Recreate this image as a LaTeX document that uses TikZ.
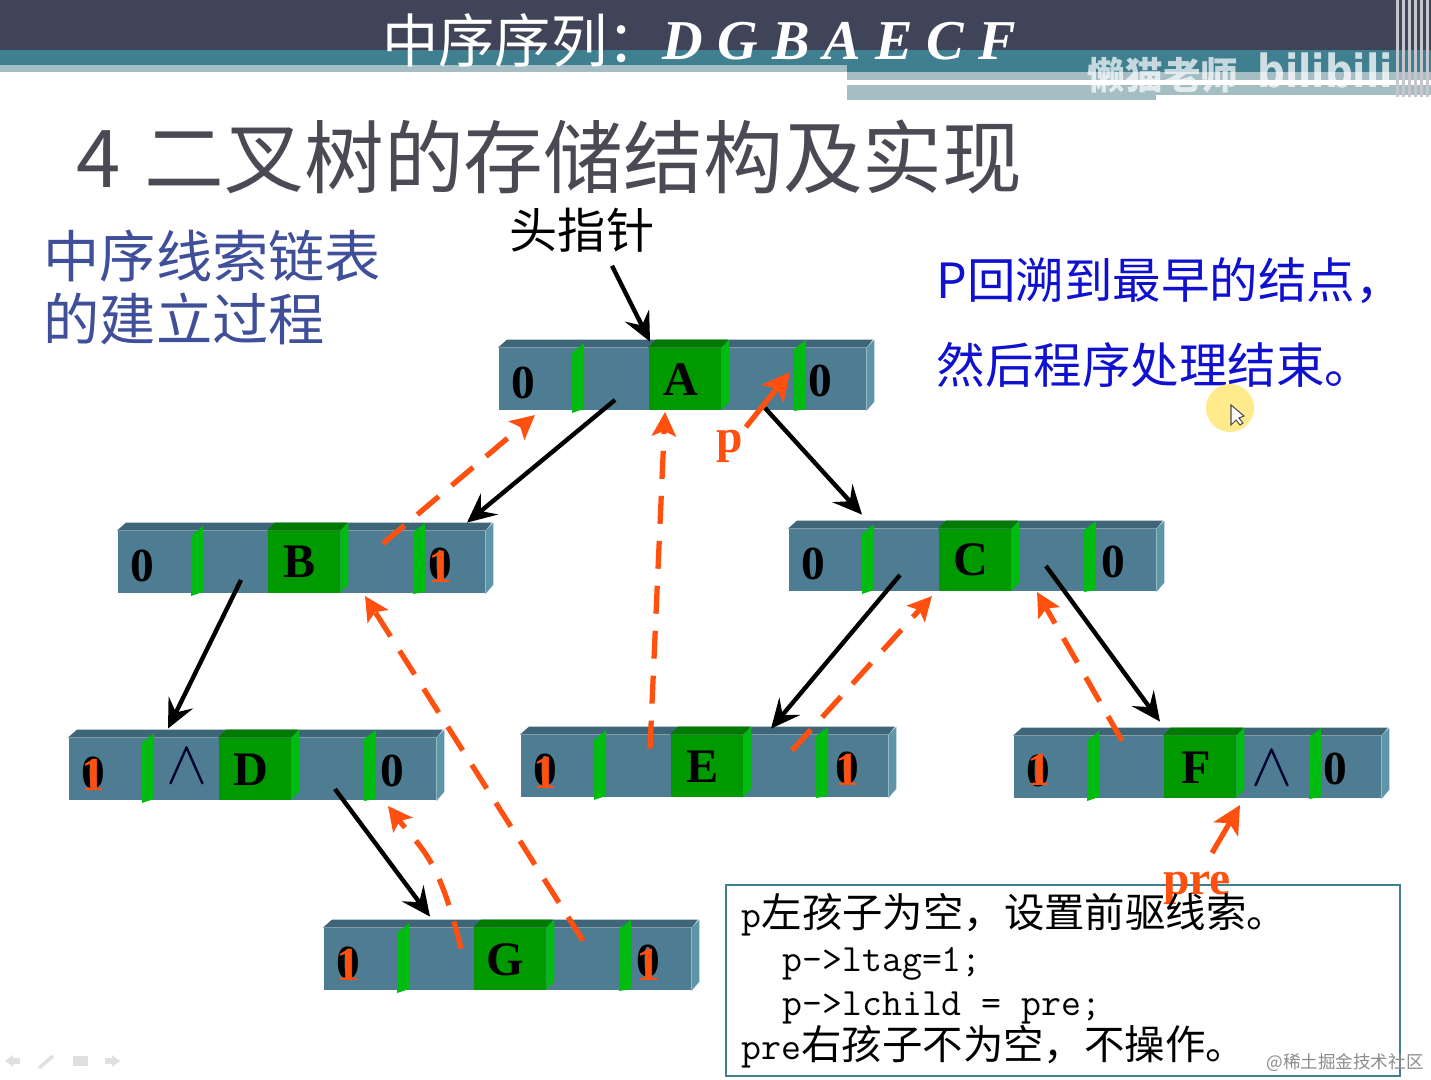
\documentclass[tikz,border=0pt]{standalone}
\usepackage{fontspec}
\usepackage{amsmath}
\usetikzlibrary{arrows.meta, calc}
\newfontfamily\cjk{Noto Sans CJK SC}
\newfontfamily\lat{Liberation Serif}
\newfontfamily\wm{DejaVu Sans}
\definecolor{bandnavy}{HTML}{3F4459}
\definecolor{bandteal}{HTML}{3F7F8F}
\definecolor{bandpale}{HTML}{A5BEC4}
\definecolor{barfront}{HTML}{4E7C92}
\definecolor{bartop}{HTML}{3F6678}
\definecolor{barside}{HTML}{5E95A8}
\definecolor{cellgreen}{HTML}{009A00}
\definecolor{celltop}{HTML}{007A00}
\definecolor{cellside}{HTML}{00BB10}
\definecolor{threadorange}{HTML}{FF5010}
\definecolor{slideblue}{HTML}{1010D0}
\definecolor{stepblue}{HTML}{3F4F9A}
\definecolor{titlegray}{HTML}{4A4A55}
\tikzset{
  bar/.style={fill=barfront, minimum width=3.67cm, minimum height=0.62cm,
              inner sep=0pt, anchor=south west},
  cell/.style={fill=cellgreen, minimum width=0.72cm, minimum height=0.62cm,
               inner sep=0pt, anchor=south west, font=\lat\bfseries\fontsize{13.7}{14}\selectfont},
  digit/.style={inner sep=0pt, font=\lat\bfseries\fontsize{13.5}{14}\selectfont},
  overone/.style={digit, text=threadorange},
  childarrow/.style={-{Stealth[length=2.9mm,width=2.7mm,inset=1.1mm]}, line width=1.25pt, draw=black},
  threadarrow/.style={-{Stealth[length=2.4mm,width=2.4mm,inset=0.5mm]}, line width=1.5pt,
                      draw=threadorange, dash pattern=on 0.28cm off 0.17cm},
  pointer/.style={-{Stealth[length=2.8mm,width=2.8mm,inset=0.7mm]}, line width=1.5pt, draw=threadorange},
  pointerlabel/.style={inner sep=0pt, text=threadorange, font=\lat\bfseries\fontsize{13.5}{14}\selectfont},
  nilmark/.style={inner sep=0pt, scale=1.75, text=black!80!blue},
  navicon/.style={fill=black!12}
}
\begin{document}
\begin{tikzpicture}
    \useasboundingbox (0,0) rectangle (14.31,-10.8);
    \fill[white] (0,0) rectangle (14.31,-10.8);
    \fill[bandnavy] (0,0) rectangle (14.31,-0.5);
    \fill[bandteal] (0,-0.5) rectangle (14.31,-0.65);
    \fill[bandpale] (0,-0.65) rectangle (8.47,-0.72);
    \fill[bandteal] (8.47,-0.65) rectangle (14.31,-0.72);
    \fill[bandpale] (8.47,-0.72) rectangle (14.31,-0.8);
    \fill[bandpale] (8.47,-0.85) rectangle (11.56,-1.0);
    \fill[bandpale] (11.56,-0.85) rectangle (14.31,-0.95);
    \foreach \i in {0,...,5}
      \fill[white!70!bandnavy] (13.96+\i*0.06,0) rectangle ++(0.025,-0.97);
    \node[inner sep=0pt, text=white, xscale=0.97, font=\cjk\fontsize{16.5}{18}\selectfont] (seq) at (5.23,-0.4) {中序序列：};
    \node[inner sep=0pt, text=white, anchor=west, font=\lat\bfseries\itshape\fontsize{16}{18}\selectfont] (seqval) at (6.62,-0.41) {D G B A E C F};
    \node[inner sep=0pt, text=white, opacity=0.7, font=\cjk\bfseries\fontsize{10.7}{12}\selectfont] (mark) at (11.63,-0.75) {懒猫老师};
    \node[inner sep=0pt, text=white, opacity=0.75, xscale=0.85, font=\wm\bfseries\fontsize{13}{18}\selectfont] (site) at (13.25,-0.7) {bilibili};
    \node[inner sep=0pt, anchor=west, text=titlegray, font=\cjk\fontsize{22.7}{26}\selectfont] (title) at (0.76,-1.57) {4\hspace{0.06cm} 二叉树的存储结构及实现};
    \node[inner sep=0pt, anchor=north west, align=left, text=stepblue, font=\cjk\fontsize{16}{18}\selectfont] (step) at (0.43,-2.29) {中序线索链表\\的建立过程};
    \node[inner sep=0pt, font=\cjk\fontsize{13.7}{16}\selectfont] (head) at (5.82,-2.30) {头指针};
    \node[inner sep=0pt, anchor=north west, align=left, text=slideblue, font=\cjk\fontsize{13.8}{24.2}\selectfont] (explain) at (9.36,-2.57) {P回溯到最早的结点，\\然后程序处理结束。};
    \foreach \name/\x/\y/\rx/\letter in {A/4.98/-4.11/3.22/A, B/1.17/-5.94/3.23/B, C/7.88/-5.92/3.25/C, D/0.68/-8.01/3.24/D, E/5.20/-7.98/3.27/E, F/10.13/-7.99/3.22/F, G/3.23/-9.91/3.25/G} {
      \node[bar] (\name) at (\x,\y) {};
      \fill[bartop] (\name.north west) -- ++(0.09,0.08) -- ++(3.66,0) -- (\name.north east) -- cycle;
      \fill[barside] (\name.north east) -- ++(0.08,0.08) -- ++(0,-0.62) -- (\name.south east) -- cycle;
      \node[cell] (\name-cell) at (\x+1.5,\y) {\hspace*{-0.08cm}\letter};
      \fill[celltop] (\name-cell.north west) -- ++(0.08,0.08) -- ++(0.72,0) -- (\name-cell.north east) -- cycle;
      \fill[cellside] (\name-cell.north east) -- ++(0.08,0.08) -- ++(0,-0.62) -- ++(-0.08,-0.08) -- cycle;
      \fill[cellside] (\x+0.74,\y-0.02) -- (\x+0.74,\y+0.58) -- (\x+0.86,\y+0.68) -- (\x+0.86,\y+0.02) -- cycle;
      \fill[cellside] (\x+2.96,\y) -- (\x+2.96,\y+0.62) -- (\x+3.08,\y+0.71) -- (\x+3.08,\y+0.02) -- cycle;
      \node[digit] (\name-ltag) at (\x+0.25,\y+0.28) {0};
      \node[digit] (\name-rtag) at (\x+\rx,\y+0.3) {0};
    }
    \node[nilmark] (nil-D) at (1.87,-7.66) {$\wedge$};
    \node[nilmark] (nil-F) at (12.72,-7.68) {$\wedge$};
    \foreach \name/\x/\y in {oneB/4.40/-5.67, oneDl/0.93/-7.75, oneEl/5.45/-7.73, oneEr/8.47/-7.70, oneFl/10.39/-7.70, oneGl/3.48/-9.65, oneGr/6.48/-9.65}
      \node[overone] (\name) at (\x,\y) {1};
    \draw[childarrow] ($(head.south)+(0.3,-0.13)$) -- ($(A.north west)+(1.52,0.06)$);
    \draw[childarrow] ($(A.south west)+(1.17,0.11)$) -- ($(B.north west)+(3.5,0.08)$);
    \draw[childarrow] ($(A.south west)+(2.67,0.03)$) -- ($(C.north west)+(0.74,0.14)$);
    \draw[childarrow] ($(B.south west)+(1.24,0.14)$) -- ($(D.north west)+(1.0,0.09)$);
    \draw[childarrow] ($(C.south west)+(1.12,0.17)$) -- ($(E.north west)+(2.51,0.06)$);
    \draw[childarrow] ($(C.south west)+(2.58,0.26)$) -- ($(F.north west)+(1.47,0.14)$);
    \draw[childarrow] ($(D.south west)+(2.67,0.12)$) -- ($(G.north west)+(1.07,0.11)$);
    \draw[threadarrow] ($(B.north west)+(2.66,-0.13)$) -- ($(A.south west)+(0.37,-0.04)$);
    \draw[threadarrow] ($(E.north west)+(1.30,-0.14)$) -- ($(A.south west)+(1.67,-0.01)$);
    \draw[threadarrow] ($(E.north west)+(2.72,-0.16)$) -- ($(C.south west)+(1.44,-0.04)$);
    \draw[threadarrow] ($(F.north west)+(1.09,-0.05)$) -- ($(C.south west)+(2.49,0)$);
    \draw[threadarrow] ($(G.north west)+(1.38,-0.21)$) .. controls +(-0.22,0.9) and +(0.35,-0.45) .. ($(D.south west)+(3.20,-0.05)$);
    \draw[threadarrow] ($(G.north west)+(2.60,-0.13)$) -- ($(B.south west)+(2.48,-0.02)$);
    \node[pointerlabel] (p) at (7.30,-4.46) {p};
    \draw[pointer] ($(p.north east)+(0.02,0.02)$) -- ($(A.south west)+(2.92,0.39)$);
    \draw[draw=bandteal, line width=0.4pt] (7.26,-8.85) rectangle (14.0,-10.76);
    \node[pointerlabel] (pre) at (11.97,-8.88) {pre};
    \draw[pointer] ($(pre.north)+(0.15,0.18)$) -- ($(F.south west)+(2.27,-0.06)$);
    \node[inner sep=0pt, anchor=north west, align=left, font=\fontsize{11}{12.5}\selectfont\ttfamily] (code) at (7.41,-8.93) {p{\cjk\fontsize{11.5}{12.5}\selectfont 左孩子为空，设置前驱线索。}\\
      \hspace*{0.41cm}p->ltag=1;\\
      \hspace*{0.41cm}p->lchild = pre;\\
      pre{\cjk\fontsize{11.5}{12.5}\selectfont 右孩子不为空，不操作。}};
    \node[inner sep=0pt, text=black!45, font=\cjk\fontsize{5}{6}\selectfont] (credit) at (13.45,-10.63) {@稀土掘金技术社区};
    \fill[orange!35!yellow!45] (12.3,-4.08) circle (0.24);
    \draw[fill=white, draw=black!70, line width=0.3pt] (12.31,-4.05) -- (12.31,-4.25) -- (12.36,-4.2) -- (12.4,-4.25) -- (12.43,-4.23) -- (12.39,-4.18) -- (12.44,-4.16) -- cycle;
    \fill[navicon] (0.05,-10.61) -- (0.13,-10.55) -- (0.13,-10.58) -- (0.2,-10.58) -- (0.2,-10.64) -- (0.13,-10.64) -- (0.13,-10.67) -- cycle;
    \draw[black!12, line width=1pt] (0.39,-10.68) -- (0.53,-10.56);
    \fill[navicon] (0.73,-10.66) rectangle (0.88,-10.56);
    \fill[navicon] (1.2,-10.61) -- (1.12,-10.55) -- (1.12,-10.58) -- (1.05,-10.58) -- (1.05,-10.64) -- (1.12,-10.64) -- (1.12,-10.67) -- cycle;
  \end{tikzpicture}
\end{document}
